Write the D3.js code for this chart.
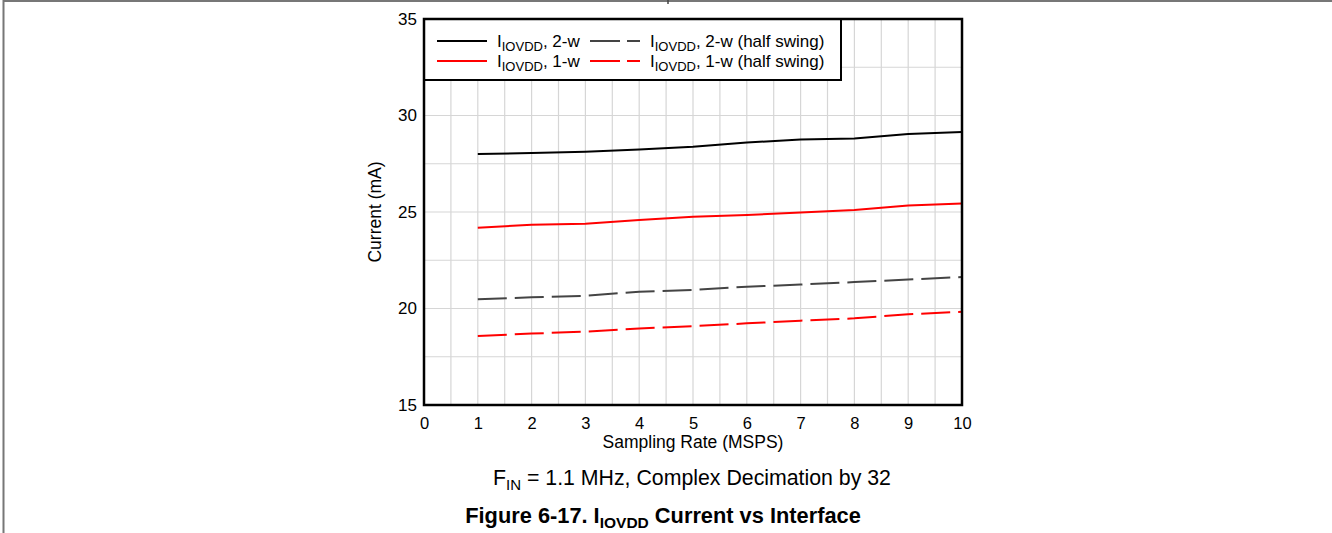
<!DOCTYPE html>
<html>
<head>
<meta charset="utf-8">
<script src="https://cdn.jsdelivr.net/npm/d3@7"></script>
<style>
  body { margin: 0; background: #fff; }
  svg { font-family: "Liberation Sans", Arial, sans-serif; }
</style>
</head>
<body>
<div id="chart"></div>
<script>
// Sampling rate (MSPS)
var rates = [1, 2, 3, 4, 5, 6, 7, 8, 9, 10];
// Current (mA) per interface mode
var iovdd2w = [28.0, 28.06, 28.12, 28.24, 28.38, 28.6, 28.76, 28.81, 29.04, 29.15];
var iovdd1w = [24.19, 24.34, 24.39, 24.59, 24.76, 24.84, 24.98, 25.1, 25.34, 25.44];
var iovdd2wHalf = [20.48, 20.58, 20.66, 20.87, 20.96, 21.13, 21.24, 21.37, 21.5, 21.63];
var iovdd1wHalf = [18.58, 18.7, 18.8, 18.96, 19.09, 19.23, 19.37, 19.49, 19.7, 19.83];
var xTicks = [0, 1, 2, 3, 4, 5, 6, 7, 8, 9, 10];
var yTicks = [15, 20, 25, 30, 35];

var series = [
    {name: '2-w', values: iovdd2w, color: '#000000', dash: null},
    {name: '1-w', values: iovdd1w, color: '#ff0000', dash: null},
    {name: '2-w (half swing)', values: iovdd2wHalf, color: '#444444', dash: '29,8'},
    {name: '1-w (half swing)', values: iovdd1wHalf, color: '#ff0000', dash: '29,8'}
];

var width = 1332, height = 533;
var plot = {left: 424, top: 19, right: 962, bottom: 405};
var font = '"Liberation Sans", Arial, sans-serif';

var svg = d3.select('#chart').append('svg')
    .attr('width', width)
    .attr('height', height);

// page frame
svg.append('line').attr('x1', 3).attr('x2', width).attr('y1', 1).attr('y2', 1)
    .attr('stroke', '#777').attr('stroke-width', 2);
svg.append('line').attr('x1', 3.5).attr('x2', 3.5).attr('y1', 0).attr('y2', height)
    .attr('stroke', '#777').attr('stroke-width', 2);
svg.append('line').attr('x1', 668).attr('x2', 668).attr('y1', 0).attr('y2', 4)
    .attr('stroke', '#444').attr('stroke-width', 1.5);

var xScale = d3.scaleLinear().domain([0, 10]).range([plot.left, plot.right]);
var yScale = d3.scaleLinear().domain([15, 35]).range([plot.bottom, plot.top]);

// grid
var g = svg.append('g');
g.selectAll('.vgrid')
    .data(d3.range(0.5, 10, 0.5)).enter()
    .append('line')
    .attr('x1', d => xScale(d)).attr('x2', d => xScale(d))
    .attr('y1', plot.top).attr('y2', plot.bottom)
    .attr('stroke', '#d6d6d6').attr('stroke-width', 1.2);
g.selectAll('.hgrid')
    .data(d3.range(17.5, 35, 2.5)).enter()
    .append('line')
    .attr('x1', plot.left).attr('x2', plot.right)
    .attr('y1', d => yScale(d)).attr('y2', d => yScale(d))
    .attr('stroke', '#d6d6d6').attr('stroke-width', 1.2);

// axes labels (no tick marks)
var xAxis = svg.append('g')
    .attr('transform', 'translate(0,' + plot.bottom + ')')
    .call(d3.axisBottom(xScale).tickValues(xTicks).tickSize(0).tickPadding(12));
xAxis.select('.domain').remove();
xAxis.selectAll('text').style('font-size', '16.5px').attr('fill', '#000')
    .style('font-family', font);

var yAxis = svg.append('g')
    .attr('transform', 'translate(' + plot.left + ',0)')
    .call(d3.axisLeft(yScale).tickValues(yTicks).tickSize(0).tickPadding(7));
yAxis.select('.domain').remove();
yAxis.selectAll('text').style('font-size', '17px').attr('fill', '#000')
    .style('font-family', font);

// lines
var line = d3.line()
    .x((d, i) => xScale(rates[i]))
    .y(d => yScale(d));

series.forEach(s => {
    svg.append('path')
        .datum(s.values)
        .attr('fill', 'none')
        .attr('stroke', s.color)
        .attr('stroke-width', 2)
        .attr('stroke-dasharray', s.dash)
        .attr('d', line);
});

// legend
var legend = svg.append('g');
legend.append('rect')
    .attr('x', plot.left).attr('y', plot.top)
    .attr('width', 841 - plot.left).attr('height', 80 - plot.top)
    .attr('fill', '#fff').attr('stroke', '#000').attr('stroke-width', 2);

var legendPos = [
    {x: 437, y: 41}, {x: 437, y: 61}, {x: 590, y: 41}, {x: 590, y: 61}
];
series.forEach((s, i) => {
    var p = legendPos[i];
    legend.append('line')
        .attr('x1', p.x).attr('x2', p.x + 50)
        .attr('y1', p.y).attr('y2', p.y)
        .attr('stroke', s.color).attr('stroke-width', 2)
        .attr('stroke-dasharray', s.dash ? '30,7' : null);
    var t = legend.append('text')
        .attr('x', p.x + 60).attr('y', p.y + 6)
        .attr('font-size', 17);
    t.append('tspan').text('I');
    t.append('tspan').attr('font-size', 13).attr('dy', 4).text('IOVDD');
    t.append('tspan').attr('dy', -4).text(', ' + s.name);
});

// plot border
svg.append('rect')
    .attr('x', plot.left).attr('y', plot.top)
    .attr('width', plot.right - plot.left).attr('height', plot.bottom - plot.top)
    .attr('fill', 'none').attr('stroke', '#000').attr('stroke-width', 2.5);

// axis titles
svg.append('text')
    .attr('x', xScale(5)).attr('y', 448)
    .attr('text-anchor', 'middle').attr('font-size', 17.5)
    .text('Sampling Rate (MSPS)');
svg.append('text')
    .attr('transform', 'translate(381,' + ((plot.top + plot.bottom) / 2) + ') rotate(-90)')
    .attr('text-anchor', 'middle').attr('font-size', 17.5)
    .text('Current (mA)');

// caption
var cap = svg.append('text')
    .attr('x', 692).attr('y', 485)
    .attr('text-anchor', 'middle').attr('font-size', 21.3);
cap.append('tspan').text('F');
cap.append('tspan').attr('font-size', 15).attr('dy', 5).text('IN');
cap.append('tspan').attr('dy', -5).text(' = 1.1 MHz, Complex Decimation by 32');

var title = svg.append('text')
    .attr('x', 663).attr('y', 523)
    .attr('text-anchor', 'middle').attr('font-size', 21.8)
    .attr('font-weight', 'bold');
title.append('tspan').text('Figure 6-17. I');
title.append('tspan').attr('font-size', 15.5).attr('dy', 5).text('IOVDD');
title.append('tspan').attr('dy', -5).text(' Current vs Interface');
</script>
</body>
</html>
